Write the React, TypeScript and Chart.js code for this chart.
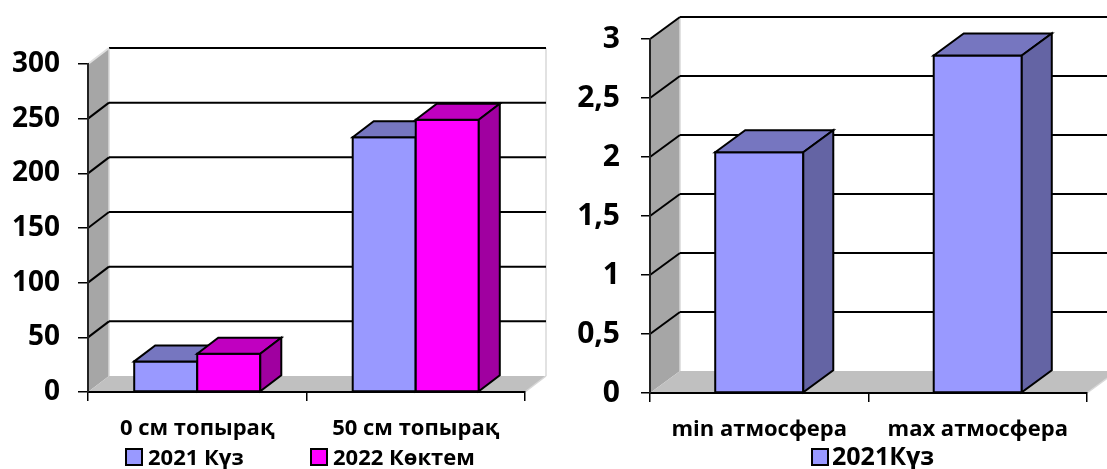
import { useEffect, useRef } from 'react';
import { Chart, registerables } from 'chart.js';

Chart.register(...registerables);

const FONT = '"Open Sans", "Noto Sans", "DejaVu Sans", sans-serif';

// Soil: two depths, two seasons
const soilCategories = ['0 см топырақ', '50 см топырақ'];
const soilAutumn2021 = [28, 233];
const soilSpring2022 = [35, 249];
const soilTickLabels = ['0', '50', '100', '150', '200', '250', '300'];
const soilSeriesLabels = ['2021 Күз', '2022 Көктем'];

// Atmosphere: min / max, one season
const atmCategories = ['min атмосфера', 'max атмосфера'];
const atmAutumn2021 = [2.04, 2.86];
const atmTickLabels = ['0', '0,5', '1', '1,5', '2', '2,5', '3'];
const atmSeriesLabels = ['2021Күз'];

const BLUE = { front: '#9999ff', top: '#7676c0', side: '#6464a4' };
const MAGENTA = { front: '#ff00ff', top: '#c000c0', side: '#a000a0' };

const H = 469;

type Pt = [number, number];

function poly(ctx: CanvasRenderingContext2D, pts: Pt[]) {
  ctx.beginPath();
  ctx.moveTo(pts[0][0], pts[0][1]);
  for (let i = 1; i < pts.length; i++) ctx.lineTo(pts[i][0], pts[i][1]);
  ctx.closePath();
}

function seg(ctx: CanvasRenderingContext2D, x0: number, y0: number, x1: number, y1: number) {
  ctx.beginPath();
  ctx.moveTo(x0, y0);
  ctx.lineTo(x1, y1);
  ctx.stroke();
}

interface Box3dOpts {
  dx: number;
  dy: number;
  topDiagColor: string;
  legendXs: number[];
  legendY: number;
  legendBox: number;
  legendGap: number;
  legendFont: number;
}

// Draws walls, floor, receding gridlines and prism-shaped columns.
function box3d(o: Box3dOpts) {
  return {
    id: 'box3d',
    beforeDatasetsDraw(chart: any) {
      const ctx: CanvasRenderingContext2D = chart.ctx;
      const { left, right, top, bottom } = chart.chartArea;
      const { dx, dy } = o;
      const ys = chart.scales.y;
      ctx.save();
      ctx.fillStyle = '#a6a6a6';
      poly(ctx, [[left, bottom], [left, top], [left + dx, top + dy], [left + dx, bottom + dy]]);
      ctx.fill();
      ctx.fillStyle = '#c0c0c0';
      poly(ctx, [[left, bottom], [right, bottom], [right + dx, bottom + dy], [left + dx, bottom + dy]]);
      ctx.fill();

      ctx.strokeStyle = '#d8d8d8';
      ctx.lineWidth = 1.5;
      seg(ctx, left + dx, top + dy, left + dx, bottom + dy);
      seg(ctx, right + dx, top + dy, right + dx, bottom + dy);
      seg(ctx, right, bottom, right + dx, bottom + dy);

      const last = ys.ticks.length - 1;
      ys.ticks.forEach((t: any, i: number) => {
        if (t.value === 0) return;
        const py = ys.getPixelForValue(t.value);
        ctx.lineWidth = 2;
        ctx.strokeStyle = '#000';
        seg(ctx, left + dx, py + dy, right + dx, py + dy);
        ctx.strokeStyle = i === last ? o.topDiagColor : '#000';
        seg(ctx, left, py, left + dx, py + dy);
      });
      ctx.restore();
    },
    beforeDatasetDraw() {
      return false;
    },
    afterDatasetsDraw(chart: any) {
      const ctx: CanvasRenderingContext2D = chart.ctx;
      const { dx, dy } = o;
      ctx.save();
      ctx.lineWidth = 2;
      ctx.lineJoin = 'miter';
      ctx.strokeStyle = '#000';
      chart.data.datasets.forEach((ds: any, di: number) => {
        const meta = chart.getDatasetMeta(di);
        meta.data.forEach((bar: any) => {
          const { x, y, base, width } = bar.getProps(['x', 'y', 'base', 'width'], true);
          const x0 = x - width / 2;
          const x1 = x + width / 2;
          ctx.fillStyle = ds.backgroundColor;
          poly(ctx, [[x0, base], [x0, y], [x1, y], [x1, base]]);
          ctx.fill();
          ctx.stroke();
          ctx.fillStyle = ds.topColor;
          poly(ctx, [[x0, y], [x0 + dx, y + dy], [x1 + dx, y + dy], [x1, y]]);
          ctx.fill();
          ctx.stroke();
          ctx.fillStyle = ds.sideColor;
          poly(ctx, [[x1, y], [x1 + dx, y + dy], [x1 + dx, base + dy], [x1, base]]);
          ctx.fill();
          ctx.stroke();
        });
      });
      ctx.restore();
    },
    afterDraw(chart: any) {
      const ctx: CanvasRenderingContext2D = chart.ctx;
      ctx.save();
      ctx.font = `bold ${o.legendFont}px ${FONT}`;
      ctx.textBaseline = 'alphabetic';
      ctx.textAlign = 'left';
      const s = o.legendBox;
      o.legendXs.forEach((lx, i) => {
        const ds = chart.data.datasets[i];
        ctx.fillStyle = ds.backgroundColor;
        ctx.fillRect(lx, o.legendY, s, s);
        ctx.lineWidth = 2;
        ctx.strokeStyle = '#000';
        ctx.strokeRect(lx, o.legendY, s, s);
        ctx.fillStyle = '#000';
        ctx.fillText(ds.label, lx + s + o.legendGap, o.legendY + s);
      });
      ctx.restore();
    },
  };
}

interface PanelSpec {
  categories: string[];
  series: { label: string; data: number[]; face: { front: string; top: string; side: string } }[];
  tickLabels: string[];
  max: number;
  step: number;
  yWidth: number;
  padRight: number;
  padTop: number;
  xHeight: number;
  yFont: number;
  yPad: number;
  yTickLen: number;
  xFont: number;
  xPad: number;
  catPct: number;
  plugin: Box3dOpts;
}

function buildConfig(p: PanelSpec): any {
  return {
    type: 'bar',
    data: {
      labels: p.categories,
      datasets: p.series.map((s) => ({
        label: s.label,
        data: s.data,
        backgroundColor: s.face.front,
        topColor: s.face.top,
        sideColor: s.face.side,
        borderColor: '#000',
        borderWidth: 2,
        barPercentage: 1,
        categoryPercentage: p.catPct,
      })),
    },
    options: {
      responsive: false,
      animation: false,
      events: [],
      layout: { padding: { left: 0, right: p.padRight, top: p.padTop, bottom: 0 } },
      plugins: { legend: { display: false }, tooltip: { enabled: false } },
      scales: {
        x: {
          type: 'category',
          offset: true,
          afterFit: (scale: any) => {
            scale.height = p.xHeight;
          },
          grid: { offset: true, drawOnChartArea: false, drawTicks: true, tickLength: 9, color: '#000', lineWidth: 1.5 },
          border: { display: true, color: '#000', width: 2, z: 1 },
          ticks: {
            color: '#000',
            padding: p.xPad,
            maxRotation: 0,
            autoSkip: false,
            font: { family: FONT, size: p.xFont, weight: 'bold' },
          },
        },
        y: {
          min: 0,
          max: p.max,
          afterFit: (scale: any) => {
            scale.width = p.yWidth;
          },
          grid: { drawOnChartArea: false, drawTicks: true, tickLength: p.yTickLen, color: '#000', lineWidth: 1.5 },
          border: { display: true, color: '#222', width: 2, z: 1 },
          ticks: {
            stepSize: p.step,
            color: '#000',
            padding: p.yPad,
            font: { family: FONT, size: p.yFont, weight: 'bold' },
            callback: (_v: any, i: number) => p.tickLabels[i],
          },
        },
      },
    },
    plugins: [box3d(p.plugin)],
  };
}

function Panel({ left, width, spec }: { left: number; width: number; spec: PanelSpec }) {
  const ref = useRef<HTMLCanvasElement>(null);
  useEffect(() => {
    const chart = new Chart(ref.current!, buildConfig(spec));
    return () => chart.destroy();
  }, []);
  return (
    <canvas
      ref={ref}
      width={width}
      height={H}
      style={{ position: 'absolute', left, top: 0, width, height: H }}
    />
  );
}

const LEFT_W = 553;
const RIGHT_X = 553;
const RIGHT_W = 554;

const soilSpec: PanelSpec = {
  categories: soilCategories,
  series: [
    { label: soilSeriesLabels[0], data: soilAutumn2021, face: BLUE },
    { label: soilSeriesLabels[1], data: soilSpring2022, face: MAGENTA },
  ],
  tickLabels: soilTickLabels,
  max: 300,
  step: 50,
  yWidth: 88,
  padRight: LEFT_W - 525,
  padTop: 64,
  xHeight: H - 392,
  yFont: 28,
  yPad: 18,
  yTickLen: 10,
  xFont: 22,
  xPad: 15,
  catPct: 0.577,
  plugin: {
    dx: 21,
    dy: -16,
    topDiagColor: '#e0e0e0',
    legendXs: [126, 311],
    legendY: 449,
    legendBox: 16,
    legendGap: 6,
    legendFont: 22,
  },
};

const atmSpec: PanelSpec = {
  categories: atmCategories,
  series: [{ label: atmSeriesLabels[0], data: atmAutumn2021, face: BLUE }],
  tickLabels: atmTickLabels,
  max: 3,
  step: 0.5,
  yWidth: 650 - RIGHT_X,
  padRight: RIGHT_W - (1087 - RIGHT_X),
  padTop: 35,
  xHeight: H - 393,
  yFont: 30,
  yPad: 21,
  yTickLen: 9,
  xFont: 22,
  xPad: 15,
  catPct: 0.403,
  plugin: {
    dx: 30,
    dy: -22,
    topDiagColor: '#000',
    legendXs: [812 - RIGHT_X],
    legendY: 449,
    legendBox: 16,
    legendGap: 4,
    legendFont: 25,
  },
};

export default function App() {
  return (
    <div style={{ position: 'absolute', left: 0, top: 0, width: 1107, height: H, background: '#fff', overflow: 'hidden' }}>
      <Panel left={0} width={LEFT_W} spec={soilSpec} />
      <Panel left={RIGHT_X} width={RIGHT_W} spec={atmSpec} />
    </div>
  );
}
